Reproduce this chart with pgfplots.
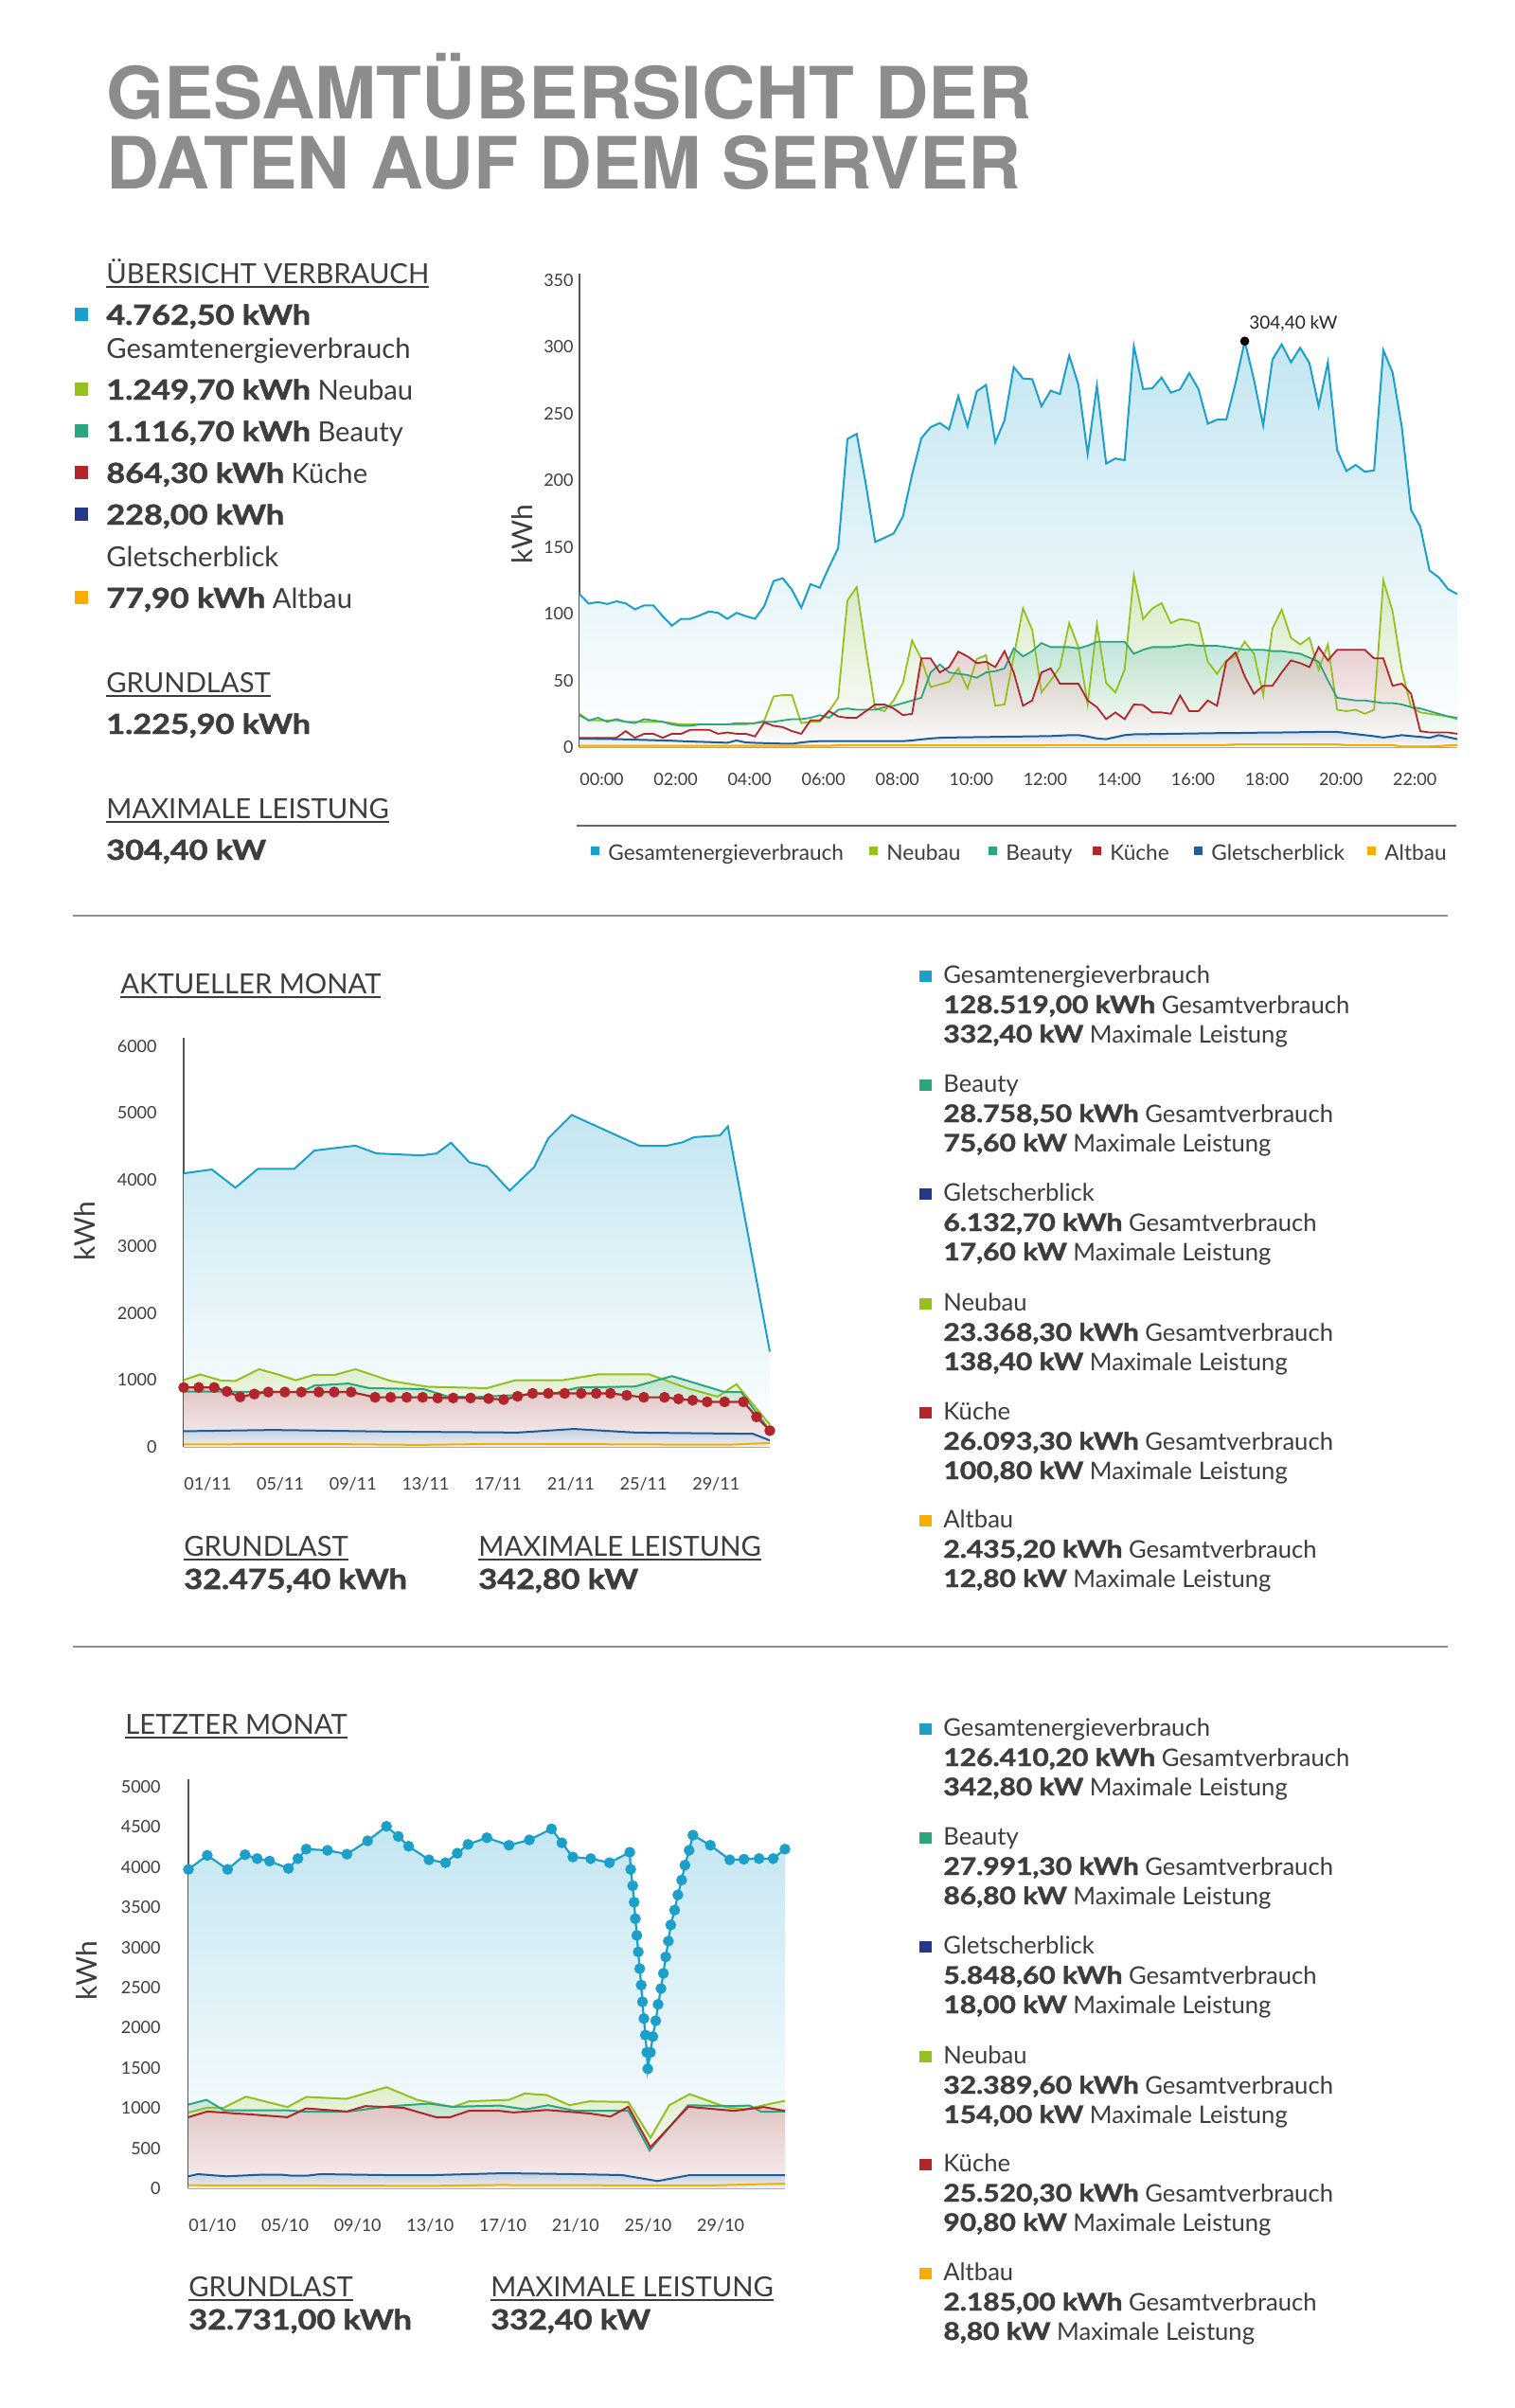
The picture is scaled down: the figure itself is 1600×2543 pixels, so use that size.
\documentclass[border=0pt]{standalone}
\usepackage{fontspec}
\setmainfont{Lato}[BoldFeatures={FakeBold=1.6}]
\newfontfamily\titlefont{TeX Gyre Heros}
\usepackage{graphicx}
\usepackage{pgfplots}
\usepackage{pgfplotstable}
\pgfplotsset{compat=1.18}

\definecolor{cG}{HTML}{1B9FCB}
\definecolor{cN}{HTML}{95C11F}
\definecolor{cB}{HTML}{2BA67E}
\definecolor{cK}{HTML}{B1252B}
\definecolor{cGl}{HTML}{1E5E9E}
\definecolor{cGlsq}{HTML}{25388A}
\definecolor{cA}{HTML}{F7AE00}
\definecolor{txt}{HTML}{3D3D3D}
\definecolor{titlegray}{HTML}{8C8C8C}
\definecolor{rulegray}{HTML}{8F8F8F}
\definecolor{xaxc}{HTML}{8C8070}
\definecolor{yaxc}{HTML}{555555}
\definecolor{pinktop}{HTML}{E4C3C5}
\definecolor{pinkbot}{HTML}{F8EEEE}
\definecolor{gltop}{HTML}{C3CEDD}
\definecolor{glbot}{HTML}{EEF1F5}

\newcommand\B[1]{\scalebox{1.17}[1]{\bfseries #1}}
\newcommand\ul[1]{\setbox0=\hbox{#1}\rlap{\rule[-2.5pt]{\wd0}{0.8pt}}\box0}

\pgfplotstableread{
t g n b k gl a
0.00 114.7 25 24 7 6.3 1.0
0.25 107.6 20 20 7 6.3 1.0
0.50 108.8 20 22 7 6.2 1.0
0.75 107.3 20 19 7 6.1 1.0
1.00 109.3 20 21 7 6.0 1.0
1.25 107.8 19 19 12 5.8 1.0
1.50 103.3 19 18 7 5.6 1.0
1.75 106.3 19 21 10 5.4 1.0
2.00 106.3 19 20 10 5.2 1.0
2.25 98.2 19 19 7 5.0 1.0
2.50 91.1 18 17 10 4.8 1.0
2.75 96.2 17 16 10 4.5 1.0
3.00 96.2 17 16 13 4.2 1.0
3.25 98.7 17 17 13 4.0 1.0
3.50 101.7 17 17 13 3.8 1.0
3.75 100.7 17 17 10 3.5 1.0
4.00 96.2 17 17 11 3.3 1.0
4.25 100.7 17 18 10 5.0 1.0
4.50 98.2 17 18 10 3.5 1.0
4.75 96.2 18 18 8 3.2 1.0
5.00 105.8 20 19 18.5 3.0 1.0
5.25 124.5 38 19 16 2.8 1.0
5.50 126.6 39 20 15 2.6 1.0
5.75 117.9 39 21 12 2.5 1.0
6.00 104.5 18 21 10 3.5 1.0
6.25 122.2 19 22 20 4.2 1.0
6.50 119.5 19 24 20 4.5 1.0
6.75 134.9 27 22 27 4.5 1.0
7.00 149.3 37 28 23 4.5 1.3
7.25 231.1 110 29 22 4.5 1.3
7.50 234.9 120 28 22 4.5 1.3
7.75 196.9 73 28 27 4.5 1.3
8.00 153.9 29 28 32 4.5 1.3
8.25 156.9 27 30 32 4.5 1.3
8.50 160.2 35 31 29 4.5 1.3
8.75 172.9 48 33 24 4.5 1.3
9.00 204.5 80 35 25 5.0 1.3
9.25 231.6 66 37 66.5 5.8 1.3
9.50 239.9 45 56 66.5 6.5 1.3
9.75 243.0 47 62 56 7.0 1.3
10.00 238.2 49 56 60 7.2 1.3
10.25 263.2 59 55 71.6 7.3 1.3
10.50 240.4 44 54 68 7.4 1.3
10.75 266.8 66 52 63 7.5 1.3
11.00 271.6 69 56 64 7.6 1.3
11.25 228.5 31 57 60 7.7 1.3
11.50 245.0 32 59 72 7.8 1.3
11.75 285.0 68 74 56 7.9 1.3
12.00 276.4 104 68 31 8.0 1.3
12.25 275.9 88 72 35 8.1 1.3
12.50 255.6 41 78 56 8.2 1.3
12.75 267.3 50 75 59 8.3 1.6
13.00 264.7 60 75 47.6 8.6 1.6
13.25 293.6 93 75 47.6 9.0 1.6
13.50 271.6 75 74 47.6 9.0 1.6
13.75 219.7 32 76 35 8.0 1.6
14.00 271.1 92 79 30 6.5 1.6
14.25 212.6 48 79 21 6.0 1.6
14.50 216.4 41 79 26 7.5 1.6
14.75 215.1 58 79 21 9.0 1.6
15.00 300.7 129 70 32 9.6 1.6
15.25 268.5 96 73 31.6 9.7 1.6
15.50 269.0 104 75 26 9.8 1.6
15.75 277.1 108 75 26 9.9 1.6
16.00 265.8 93 75 25 10.0 1.6
16.25 268.3 96 76 38.7 10.1 1.6
16.50 280.4 95 77 27 10.2 1.6
16.75 268.3 93 76 27 10.3 1.6
17.00 242.5 64 76 35 10.4 1.6
17.25 245.5 55 76 31 10.5 1.6
17.50 245.5 65 75 64 10.5 1.6
17.75 272.8 68 74 71 10.6 2.0
18.00 304.4 79 73 53 10.7 2.0
18.25 275.4 70 73 40 10.8 2.0
18.50 241.2 39 73 46 10.9 2.0
18.75 290.6 89 72 46 11.0 2.0
19.00 302.0 103 72 56 11.0 2.0
19.25 288.5 82 71 65 11.1 2.0
19.50 299.4 77 70 63 11.2 2.0
19.75 288.0 82 67 60 11.3 2.0
20.00 255.6 58 64 75 11.4 2.0
20.25 288.5 77 50 65 11.4 2.0
20.50 222.7 28 37 73 11.4 2.0
20.75 207.0 27 36 73 10.6 1.5
21.00 211.6 28 35 73 9.8 1.5
21.25 206.5 25 35 73 9.0 1.5
21.50 207.5 28 34 66.5 8.2 1.5
21.75 297.6 125 33 66.5 7.2 1.5
22.00 280.9 102 33 46 8.0 1.5
22.25 240.0 58 32 47.6 9.0 0.5
22.50 177.9 30 30 40 8.3 0.5
22.75 165.3 26 29 12 7.7 0.5
23.00 132.4 25 27 11 7.0 0.5
23.25 127.3 24 25 11 9.0 0.8
23.50 118.5 23 23 11 7.5 1.2
23.75 114.7 21 22 10 6.0 1.5
}\topdata

% ---------- current month (November) ----------
\pgfplotstableread{
x y
1.00 4098
2.55 4156
3.85 3883
5.09 4166
7.09 4166
8.20 4440
10.46 4513
11.62 4396
14.08 4367
14.94 4396
15.72 4557
16.73 4264
17.71 4200
18.95 3839
20.30 4191
21.08 4621
22.37 4973
26.13 4508
27.55 4508
28.46 4562
29.11 4640
30.53 4665
30.97 4802
33.28 1428
}\mG
\pgfplotstableread{
x y
1.00 1002
1.91 1086
3.07 993
3.85 988
5.15 1164
6.18 1086
7.17 998
8.12 1076
9.29 1076
10.46 1164
12.40 988
14.47 900
17.71 880
19.26 998
21.85 998
23.80 1086
26.65 1086
28.72 880
30.40 753
31.44 939
33.28 333
}\mN
\pgfplotstableread{
x y
1.00 830
7.48 822
8.20 919
10.07 949
11.23 880
14.21 866
15.51 758
17.00 745
21.47 807
22.76 890
25.87 905
27.89 1061
30.79 822
31.70 822
33.28 244
}\mB
\pgfplotstableread{
x y
1.00 890
1.83 890
2.68 890
3.38 831
4.11 748
4.89 792
5.66 822
6.57 822
7.48 822
8.44 822
9.29 822
10.22 822
11.54 743
12.40 743
13.28 743
14.16 743
14.99 733
15.84 733
16.80 733
17.79 724
18.62 709
19.39 758
20.22 802
21.08 802
21.98 802
22.89 802
23.72 802
24.50 802
25.40 773
26.34 743
27.48 743
28.25 719
29.03 699
29.83 675
30.79 675
31.83 675
32.55 450
33.28 244
}\mK
\pgfplotstableread{
x y
1.00 235
5.92 254
12.14 230
19.39 215
22.50 269
25.87 215
32.35 196
33.28 98
}\mGl
\pgfplotstableread{
x y
1.00 39
10.00 40
14.00 30
18.00 45
22.00 42
28.00 35
31.00 33
33.28 59
}\mA

% ---------- last month (October) ----------
\pgfplotstableread{
x y
1.00 3972
2.04 4146
3.16 3972
4.12 4154
4.79 4106
5.47 4075
6.51 3984
7.03 4106
7.49 4224
8.66 4209
9.73 4161
10.87 4327
11.91 4508
12.56 4382
13.13 4260
14.25 4091
15.16 4055
15.81 4173
16.40 4283
17.44 4366
18.66 4272
19.78 4339
21.00 4476
21.57 4303
22.17 4126
23.16 4106
24.19 4055
25.31 4185
25.36 3972
25.47 3768
25.55 3563
25.62 3358
25.70 3150
25.78 2945
25.86 2736
25.94 2531
26.01 2323
26.09 2114
26.17 1909
26.25 1693
26.30 1488
26.45 1693
26.58 1890
26.74 2087
26.87 2291
27.03 2488
27.16 2677
27.29 2882
27.44 3079
27.57 3280
27.78 3465
27.96 3654
28.17 3839
28.35 4024
28.58 4209
28.79 4398
29.75 4272
30.82 4091
31.60 4098
32.43 4106
33.21 4106
33.86 4224
}\lG
\pgfplotstableread{
x y
1.00 945
2.04 1004
2.95 1004
4.17 1142
6.45 1012
7.49 1138
9.70 1114
11.91 1260
13.60 1102
15.55 1012
16.45 1083
18.66 1102
19.52 1181
20.74 1161
21.99 1035
23.08 1083
25.23 1075
26.45 630
27.49 1035
28.61 1173
30.61 1012
31.65 984
33.86 1091
}\lN
\pgfplotstableread{
x y
1.00 1043
1.99 1102
2.95 972
6.45 972
7.49 953
9.70 953
12.17 1024
14.25 1055
15.55 1016
18.14 1031
19.57 984
20.82 1035
22.30 965
25.23 965
26.40 472
28.53 1035
30.87 1024
31.91 1031
32.56 953
33.86 957
}\lB
\pgfplotstableread{
x y
1.00 886
2.04 957
4.64 917
6.45 886
7.49 996
9.73 957
10.74 1024
12.82 1004
14.64 886
15.42 886
16.45 965
18.14 965
18.92 945
20.74 976
23.08 933
24.25 894
25.23 1016
26.45 512
28.53 1016
31.05 965
32.69 1012
33.86 965
}\lK
\pgfplotstableread{
x y
1.00 150
1.52 177
3.08 150
4.90 169
6.19 169
6.71 157
7.49 157
8.27 177
11.91 165
14.51 165
18.40 189
22.30 177
24.90 165
26.84 91
28.61 165
33.86 165
}\lGl
\pgfplotstableread{
x y
1.00 39
10.00 35
14.00 30
18.00 42
25.00 38
30.00 38
33.86 59
}\lA

\pgfplotsset{
  info/.style={
    scale only axis, anchor=south west, enlargelimits=false,
    axis lines*=left,
    x axis line style={-, draw=xaxc, line width=1.1pt},
    y axis line style={-, draw=yaxc, line width=0.6pt},
    major tick length=0pt, tick style={draw=none},
    tick label style={font=\fontsize{9}{10}\selectfont, text=txt},
    /pgf/number format/assume math mode=true,
    /pgf/number format/1000 sep={},
    xticklabel style={anchor=base west, inner sep=0pt},
    yticklabel style={anchor=east, inner sep=0pt},
    clip=false,
  },
}

\tikzset{
  L/.style={anchor=base west, inner sep=0pt, text=txt, font=\fontsize{14.6}{16}\selectfont},
  R/.style={anchor=base west, inner sep=0pt, text=txt, font=\fontsize{12.8}{14}\selectfont},
  G/.style={anchor=base west, inner sep=0pt, text=txt, font=\fontsize{11.3}{13}\selectfont},
}

\newcommand\entry[5]{%
  \fill[#2] (971,#1-13) rectangle (984,#1-1);
  \node[R] at (996,#1) {#3};
  \node[R] at (996,#1+32) {\B{#4 kWh} Gesamtverbrauch};
  \node[R] at (996,#1+63) {\B{#5 kW} Maximale Leistung};
}

\begin{document}
\begin{tikzpicture}
\begin{scope}[x=0.5pt,y=-0.5pt]
\path[use as bounding box, fill=white] (0,0) rectangle (1600,2543);

% title
\node[anchor=base west, inner sep=0pt, text=titlegray, font=\titlefont\bfseries\fontsize{38}{38}\selectfont] at (112,125.5) {\scalebox{1.03}[1]{GESAMTÜBERSICHT DER}};
\node[anchor=base west, inner sep=0pt, text=titlegray, font=\titlefont\bfseries\fontsize{38}{38}\selectfont] at (112,199) {\scalebox{1.017}[1]{DATEN AUF DEM SERVER}};

% left column
\node[L] at (112,299) {\ul{ÜBERSICHT VERBRAUCH}};
\node[L] at (112,343) {\B{4.762,50 kWh}};
\node[L] at (112,378) {Gesamtenergieverbrauch};
\node[L] at (112,422) {\B{1.249,70 kWh} Neubau};
\node[L] at (112,466) {\B{1.116,70 kWh} Beauty};
\node[L] at (112,510) {\B{864,30 kWh} Küche};
\node[L] at (112,554) {\B{228,00 kWh}};
\node[L] at (112,598) {Gletscherblick};
\node[L] at (112,642) {\B{77,90 kWh} Altbau};
\fill[cG] (79,325) rectangle (93,339);
\fill[cN] (79,404) rectangle (93,418);
\fill[cB] (79,448) rectangle (93,462);
\fill[cK] (79,492) rectangle (93,506);
\fill[cGlsq] (79,536) rectangle (93,550);
\fill[cA] (79,624) rectangle (93,638);
\node[L] at (112,731) {\ul{GRUNDLAST}};
\node[L] at (112,775) {\B{1.225,90 kWh}};
\node[L] at (112,864) {\ul{MAXIMALE LEISTUNG}};
\node[L] at (112,908) {\B{304,40 kW}};

% top chart y label and legend
\node[rotate=90, inner sep=0pt, text=txt, font=\fontsize{15}{16}\selectfont] at (551,564) {kWh};
\draw[draw=black!60, line width=0.7pt] (609,872) -- (1538,872);
\fill[cG] (624,894) rectangle (633,903);  \node[G] at (642,908) {Gesamtenergieverbrauch};
\fill[cN] (918,894) rectangle (927,903);  \node[G] at (936,908) {Neubau};
\fill[cB] (1044,894) rectangle (1053,903); \node[G] at (1062,908) {Beauty};
\fill[cK] (1154,894) rectangle (1163,903); \node[G] at (1172,908) {Küche};
\fill[cGl] (1261,894) rectangle (1270,903); \node[G] at (1279,908) {Gletscherblick};
\fill[cA] (1444,894) rectangle (1453,903); \node[G] at (1462,908) {Altbau};

% rules
\draw[rulegray, line width=1pt] (77,967) -- (1529,967);
\draw[rulegray, line width=1pt] (77,1739) -- (1529,1739);

% middle section texts
\node[L] at (127,1049) {\ul{AKTUELLER MONAT}};
\node[rotate=90, inner sep=0pt, text=txt, font=\fontsize{15}{16}\selectfont] at (89,1300) {kWh};
\node[L] at (194,1643) {\ul{GRUNDLAST}};
\node[L] at (194,1678) {\B{32.475,40 kWh}};
\node[L] at (505,1643) {\ul{MAXIMALE LEISTUNG}};
\node[L] at (505,1678) {\B{342,80 kW}};
\entry{1038}{cG}{Gesamtenergieverbrauch}{128.519,00}{332,40}
\entry{1153}{cB}{Beauty}{28.758,50}{75,60}
\entry{1268}{cGlsq}{Gletscherblick}{6.132,70}{17,60}
\entry{1384}{cN}{Neubau}{23.368,30}{138,40}
\entry{1499}{cK}{Küche}{26.093,30}{100,80}
\entry{1613}{cA}{Altbau}{2.435,20}{12,80}

% bottom section texts
\node[L] at (132,1831) {\ul{LETZTER MONAT}};
\node[rotate=90, inner sep=0pt, text=txt, font=\fontsize{15}{16}\selectfont] at (91,2081) {kWh};
\node[L] at (199,2425) {\ul{GRUNDLAST}};
\node[L] at (199,2460) {\B{32.731,00 kWh}};
\node[L] at (518,2425) {\ul{MAXIMALE LEISTUNG}};
\node[L] at (518,2460) {\B{332,40 kW}};
\entry{1833}{cG}{Gesamtenergieverbrauch}{126.410,20}{342,80}
\entry{1948}{cB}{Beauty}{27.991,30}{86,80}
\entry{2063}{cGlsq}{Gletscherblick}{5.848,60}{18,00}
\entry{2179}{cN}{Neubau}{32.389,60}{154,00}
\entry{2293}{cK}{Küche}{25.520,30}{90,80}
\entry{2408}{cA}{Altbau}{2.185,00}{8,80}
\end{scope}

% ================= top chart =================
\begin{axis}[info, at={(306pt,-394.5pt)}, width=463.5pt, height=250pt,
  xmin=0, xmax=23.75, ymin=0, ymax=355,
  xtick={0,2,...,22},
  xticklabels={00:00,02:00,04:00,06:00,08:00,10:00,12:00,14:00,16:00,18:00,20:00,22:00},
  ytick={0,50,...,350},
  xticklabel style={yshift=-20pt}, yticklabel style={xshift=-3pt}]
\addplot[draw=none, top color=cG!26, bottom color=white] table[x=t,y=g]{\topdata} \closedcycle;
\addplot[draw=none, top color=cN!55, bottom color=white, fill opacity=0.45] table[x=t,y=n]{\topdata} \closedcycle;
\addplot[draw=none, top color=cB!55, bottom color=white, fill opacity=0.45] table[x=t,y=b]{\topdata} \closedcycle;
\addplot[draw=none, top color=cK!45, bottom color=white, fill opacity=0.45] table[x=t,y=k]{\topdata} \closedcycle;
\addplot[draw=none, top color=cGl!40, bottom color=white, fill opacity=0.45] table[x=t,y=gl]{\topdata} \closedcycle;
\addplot[cA!60!white, line width=1pt] table[x=t,y=a]{\topdata};
\addplot[cG, line width=1pt] table[x=t,y=g]{\topdata};
\addplot[cN, line width=0.9pt] table[x=t,y=n]{\topdata};
\addplot[cB, line width=0.9pt] table[x=t,y=b]{\topdata};
\addplot[cK, line width=0.9pt] table[x=t,y=k]{\topdata};
\addplot[cGl, line width=1pt] table[x=t,y=gl]{\topdata};
\addplot[cA, line width=1pt] table[x=t,y=a]{\topdata};
\addplot[only marks, mark=*, mark size=2.2pt, black] coordinates {(18,304.4)};
\node[anchor=base west, inner sep=0pt, text=black!85, font=\fontsize{9.5}{10}\selectfont, xshift=2.2pt, yshift=6.5pt] at (axis cs:18,304.4) {304,40 kW};
\end{axis}

% ================= middle chart =================
\begin{axis}[info, at={(97pt,-764pt)}, width=309.5pt, height=216pt,
  xmin=1, xmax=33.28, ymin=0, ymax=6128,
  xtick={1,5,...,29},
  xticklabels={01/11,05/11,09/11,13/11,17/11,21/11,25/11,29/11},
  ytick={0,1000,...,6000},
  xticklabel style={yshift=-22.5pt}, yticklabel style={xshift=-14pt}]
\addplot[draw=none, top color=cG!26, bottom color=white] table{\mG} \closedcycle;
\addplot[draw=none, top color=cN!45, bottom color=white, fill opacity=0.45] table{\mN} \closedcycle;
\addplot[draw=none, top color=cB!50, bottom color=white, fill opacity=0.45] table{\mB} \closedcycle;
\addplot[draw=none, top color=pinktop, bottom color=pinkbot, fill opacity=0.9] table{\mK} \closedcycle;
\addplot[draw=none, top color=gltop, bottom color=glbot, fill opacity=0.9] table{\mGl} \closedcycle;
\addplot[cG, line width=1pt] table{\mG};
\addplot[cN, line width=1pt] table{\mN};
\addplot[cB, line width=1pt] table{\mB};
\addplot[cGl, line width=1pt] table{\mGl};
\addplot[cA, line width=1pt] table{\mA};
\addplot[cK, line width=1.1pt, mark=*, mark size=2.3pt, mark options={fill=cK, draw=cK}] table{\mK};
\end{axis}

% ================= bottom chart =================
\begin{axis}[info, at={(99.5pt,-1155.5pt)}, width=315pt, height=216pt,
  xmin=1, xmax=33.86, ymin=0, ymax=5094,
  xtick={1,5,...,29},
  xticklabels={01/10,05/10,09/10,13/10,17/10,21/10,25/10,29/10},
  ytick={0,500,...,5000},
  xticklabel style={yshift=-22.5pt}, yticklabel style={xshift=-14.5pt}]
\addplot[draw=none, top color=cG!26, bottom color=white] table{\lG} \closedcycle;
\addplot[draw=none, top color=cN!45, bottom color=white, fill opacity=0.45] table{\lN} \closedcycle;
\addplot[draw=none, top color=cB!50, bottom color=white, fill opacity=0.45] table{\lB} \closedcycle;
\addplot[draw=none, top color=pinktop, bottom color=pinkbot, fill opacity=0.9] table{\lK} \closedcycle;
\addplot[draw=none, top color=gltop, bottom color=glbot, fill opacity=0.9] table{\lGl} \closedcycle;
\addplot[cN, line width=1pt] table{\lN};
\addplot[cB, line width=1pt] table{\lB};
\addplot[cK, line width=1pt] table{\lK};
\addplot[cGl, line width=1pt] table{\lGl};
\addplot[cA, line width=1pt] table{\lA};
\addplot[cG, line width=1.1pt, mark=*, mark size=2.3pt, mark options={fill=cG, draw=cG}] table{\lG};
\end{axis}
\end{tikzpicture}
\end{document}
